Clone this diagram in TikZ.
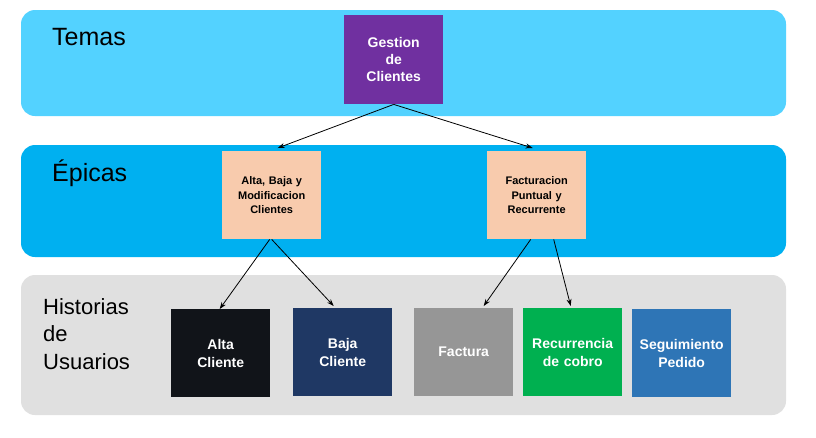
\documentclass[tikz,border=0pt]{standalone}
\usepackage{fontspec}
\setmainfont{Liberation Sans}
\usetikzlibrary{arrows.meta}
\definecolor{temasc}{HTML}{53D2FF}
\definecolor{epicasc}{HTML}{00B0F0}
\definecolor{histc}{HTML}{E0E0E0}
\definecolor{purplec}{HTML}{7030A0}
\definecolor{peachc}{HTML}{F8CBAD}
\definecolor{blackc}{HTML}{111419}
\definecolor{navyc}{HTML}{1F3864}
\definecolor{grayc}{HTML}{969696}
\definecolor{greenc}{HTML}{00B050}
\definecolor{bluec}{HTML}{2E75B6}
\tikzset{
  band/.style={rounded corners=14pt},
  boxnode/.style={anchor=north west, minimum width=99pt, minimum height=88pt, inner sep=1pt, align=center, text width=97pt, font=\fontsize{14}{18}\selectfont\bfseries, text=white},
  epicbox/.style={boxnode, fill=peachc, text=black, font=\fontsize{11}{14.5}\selectfont\bfseries},
  lvl/.style={anchor=base west, align=left, font=\fontsize{25}{28}\selectfont},
  arr/.style={-{Stealth[length=7pt,width=5pt]}, line width=0.8pt}
}
\begin{document}
\begin{tikzpicture}[x=1pt,y=-1pt]
\useasboundingbox (0,0) rectangle (816,437);
\fill[white] (0,0) rectangle (816,437);
\fill[band, temasc] (21,10) rectangle (786,116);
\fill[band, epicasc] (21,145) rectangle (786,257);
\fill[band, histc] (21,275) rectangle (786,415);
\node[lvl, inner sep=0pt] (temas) at (52,45) {Temas};
\node[lvl, inner sep=0pt] (epicas) at (52,181) {Épicas};
\node[anchor=north west, inner sep=0pt, align=left, font=\fontsize{22}{27.5}\selectfont] (hist) at (43,298) {Historias\\de\\Usuarios};
\node[boxnode, fill=purplec, minimum height=89pt, font=\fontsize{14}{17}\selectfont\bfseries] (gc) at (344,15) {Gestion\\de\\Clientes};
\node[epicbox] (abm) at (222,151) {Alta, Baja y\\Modificacion\\Clientes};
\node[epicbox] (fac) at (487,151) {Facturacion\\Puntual y\\Recurrente};
\node[boxnode, fill=blackc] (alta) at (171,309) {Alta\\Cliente};
\node[boxnode, fill=navyc] (baja) at (293,308) {Baja\\Cliente};
\node[boxnode, fill=grayc] (fact) at (414,308) {Factura};
\node[boxnode, fill=greenc] (rec) at (523,308) {Recurrencia\\de cobro};
\node[boxnode, fill=bluec] (seg) at (632,309) {Seguimiento\\Pedido};
\draw[arr] (gc.south) -- ([xshift=6pt,yshift=3pt]abm.north);
\draw[arr] (gc.south) -- ([xshift=-4pt,yshift=3pt]fac.north);
\draw[arr] ([xshift=-2pt]abm.south) -- ([xshift=-1pt]alta.north);
\draw[arr] ([xshift=0pt]abm.south) -- ([xshift=-9pt,yshift=2pt]baja.north);
\draw[arr] ([xshift=-6pt]fac.south) -- ([xshift=20pt,yshift=2pt]fact.north);
\draw[arr] ([xshift=17pt]fac.south) -- ([xshift=-2pt,yshift=2pt]rec.north);
\end{tikzpicture}
\end{document}
